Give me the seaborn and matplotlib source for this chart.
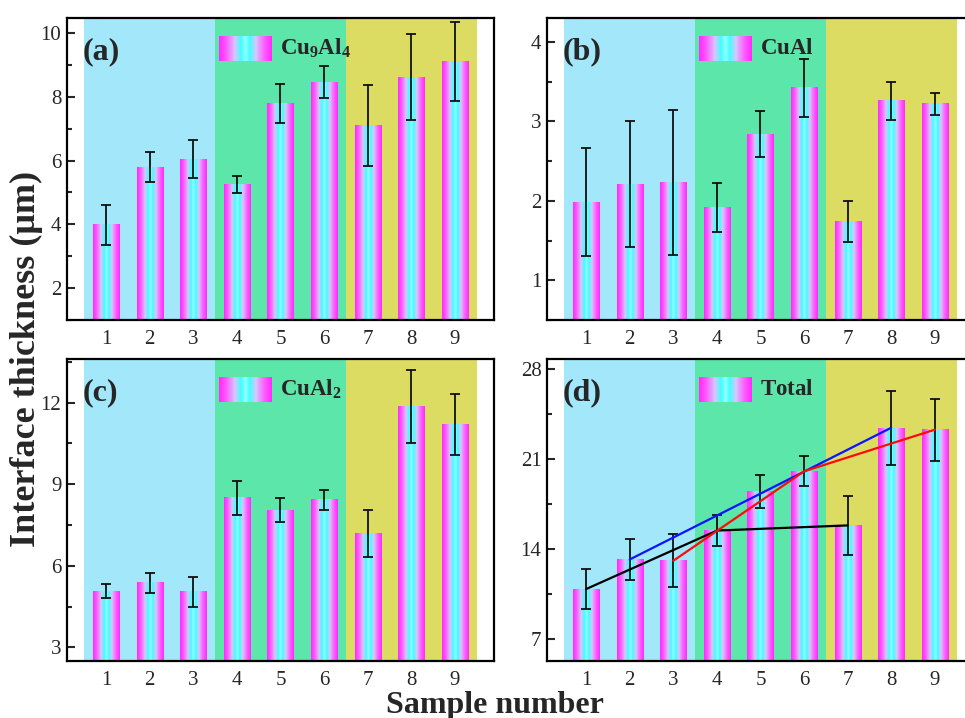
import numpy as np
import pandas as pd
import seaborn as sns
import matplotlib.pyplot as plt
from matplotlib.colors import LinearSegmentedColormap
from matplotlib.ticker import AutoMinorLocator

samples = [1, 2, 3, 4, 5, 6, 7, 8, 9]

cu9al4 = [3.98, 5.79, 6.04, 5.24, 7.79, 8.46, 7.10, 8.62, 9.12]
cu9al4_err = [0.62, 0.47, 0.60, 0.27, 0.60, 0.51, 1.27, 1.34, 1.24]

cual = [1.98, 2.21, 2.23, 1.92, 2.84, 3.42, 1.74, 3.26, 3.22]
cual_err = [0.68, 0.79, 0.91, 0.31, 0.29, 0.36, 0.26, 0.24, 0.14]

cual2 = [5.07, 5.37, 5.04, 8.50, 8.05, 8.42, 7.18, 11.84, 11.20]
cual2_err = [0.27, 0.38, 0.55, 0.63, 0.44, 0.37, 0.86, 1.34, 1.12]

total = [10.89, 13.20, 13.14, 15.45, 18.49, 20.06, 15.84, 23.43, 23.28]
total_err = [1.54, 1.60, 2.05, 1.20, 1.30, 1.18, 2.33, 2.87, 2.44]

# trend lines in panel (d)
black_x, black_y = [1, 4, 7], [10.9, 15.45, 15.85]
blue_x, blue_y = [2, 8], [13.2, 23.45]
red_x, red_y = [3, 6, 9], [13.1, 20.06, 23.3]

sns.set_style('ticks')
plt.rcParams['font.family'] = ['Liberation Serif', 'DejaVu Serif']
plt.rcParams['mathtext.fontset'] = 'custom'
plt.rcParams['mathtext.rm'] = 'Liberation Serif'
plt.rcParams['mathtext.bf'] = 'Liberation Serif:bold'

grad_cmap = LinearSegmentedColormap.from_list('bar', [
    (0.0, '#ff2cff'), (0.12, '#ff55ff'), (0.3, '#d6c8ff'), (0.42, '#3dffff'),
    (0.5, '#9cffff'), (0.58, '#3dffff'), (0.7, '#d6c8ff'), (0.88, '#ff55ff'),
    (1.0, '#ff2cff')])
grad = np.linspace(0, 1, 64).reshape(1, -1)

bg_colors = ['#a3e8fa', '#5ce6aa', '#dcdc62']
bg_spans = [(0.5, 3.5), (3.5, 6.5), (6.5, 9.5)]

fig = plt.figure(figsize=(9.65, 7.18), dpi=100)

panels = [
    ('(a)', r'$\mathbf{Cu_9Al_4}$', cu9al4, cu9al4_err, (1.0, 10.47), [2, 4, 6, 8, 10],
     [0.0694, 0.5543, 0.4425, 0.4206]),
    ('(b)', r'$\mathbf{CuAl}$', cual, cual_err, (0.5, 4.3), [1, 2, 3, 4],
     [0.5668, 0.5543, 0.4425, 0.4206]),
    ('(c)', r'$\mathbf{CuAl_2}$', cual2, cual2_err, (2.5, 13.6), [3, 6, 9, 12],
     [0.0694, 0.0794, 0.4425, 0.4206]),
    ('(d)', r'$\mathbf{Total}$', total, total_err, (5.3, 28.8), [7, 14, 21, 28],
     [0.5668, 0.0794, 0.4425, 0.4206]),
]

for tag, name, vals, errs, ylim, yticks, rect in panels:
    ax = fig.add_axes(rect)
    df = pd.DataFrame({'sample': samples, 'value': vals})
    sns.barplot(data=df, x='sample', y='value', native_scale=True, width=0.6,
                color='white', errorbar=None, linewidth=0, ax=ax)
    for bar in ax.patches:
        bar.set_facecolor('none')
        x0, w, h = bar.get_x(), bar.get_width(), bar.get_height()
        ax.imshow(grad, cmap=grad_cmap, extent=[x0, x0 + w, 0, h],
                  aspect='auto', zorder=2, interpolation='bilinear')
    for (a, b), c in zip(bg_spans, bg_colors):
        ax.axvspan(a, b, color=c, lw=0, zorder=0)
    ax.errorbar(samples, vals, yerr=errs, fmt='none', ecolor='#111111',
                elinewidth=1.3, capsize=3.5, capthick=1.3, zorder=4)

    if tag == '(d)':
        sns.lineplot(x=black_x, y=black_y, color='black', lw=1.6, ax=ax, zorder=5)
        sns.lineplot(x=blue_x, y=blue_y, color='#0a14ff', lw=1.6, ax=ax, zorder=5)
        sns.lineplot(x=red_x, y=red_y, color='#ff0a0a', lw=1.6, ax=ax, zorder=5)

    ax.set_xlim(0.1, 9.9)
    ax.set_ylim(*ylim)
    ax.set_xticks(samples)
    ax.set_yticks(yticks)
    ax.yaxis.set_minor_locator(AutoMinorLocator(2))
    ax.tick_params(axis='y', which='major', direction='in', length=6, width=1.5,
                   labelsize=15, pad=4)
    ax.tick_params(axis='y', which='minor', direction='in', length=3.5, width=1.5)
    ax.tick_params(axis='x', length=0, labelsize=15, pad=7)
    for s in ax.spines.values():
        s.set_linewidth(1.6)
        s.set_color('black')
        s.set_zorder(6)
    ax.set_xlabel('')
    ax.set_ylabel('')

    ax.text(0.036, 0.89, tag, transform=ax.transAxes, fontsize=23,
            fontweight='bold', va='center', ha='left', zorder=7)
    # legend-like key with the same gradient
    key = ax.inset_axes([0.356, 0.857, 0.124, 0.083])
    key.imshow(grad, cmap=grad_cmap, aspect='auto', interpolation='bilinear')
    key.set_axis_off()
    ax.text(0.5, 0.898, name, transform=ax.transAxes, fontsize=16.5,
            va='center', ha='left', zorder=7)

fig.text(0.027, 0.5, 'Interface thickness (\u03bcm)', rotation=90, fontsize=26,
         fontweight='bold', va='center', ha='center')
fig.text(0.513, 0.018, 'Sample number', fontsize=23, fontweight='bold',
         va='center', ha='center')

fig.savefig('out.png', dpi=100)
